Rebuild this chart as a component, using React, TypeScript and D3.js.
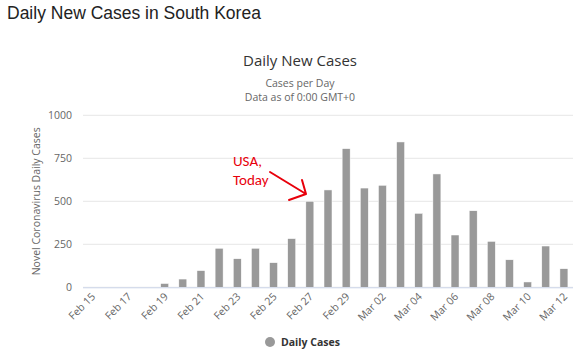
import React from "react";
import * as d3 from "d3";

const dates = [
  "Feb 15","Feb 16","Feb 17","Feb 18","Feb 19","Feb 20","Feb 21","Feb 22","Feb 23",
  "Feb 24","Feb 25","Feb 26","Feb 27","Feb 28","Feb 29","Mar 01","Mar 02","Mar 03",
  "Mar 04","Mar 05","Mar 06","Mar 07","Mar 08","Mar 09","Mar 10","Mar 11","Mar 12",
];
const dailyCases = [
  0, 0, 0, 0, 22, 48, 97, 227, 166, 227, 143, 283, 500, 566, 806, 577, 593, 845,
  430, 659, 304, 445, 267, 160, 31, 240, 108,
];
const yTicks = [0, 250, 500, 750, 1000];

export default function App() {
  const W = 583, H = 356;
  const left = 83, right = 573, top = 115.3, bottom = 287.3;
  const x = d3.scaleBand<string>().domain(dates).range([left, right]).paddingInner(0.56).paddingOuter(0.28);
  const xc = d3.scaleBand<string>().domain(dates).range([left, right]);
  const y = d3.scaleLinear().domain([0, 1000]).range([bottom, top]);
  const font = "'Open Sans', 'Noto Sans', sans-serif";

  return (
    <svg width={W} height={H} style={{ position: "absolute", left: 0, top: 0, background: "#fff" }}>
      <text x={7} y={19} fontFamily="Arial, 'Liberation Sans', sans-serif" fontSize={17.5} fill="#222">
        Daily New Cases in South Korea
      </text>
      <text x={300} y={66} textAnchor="middle" fontFamily={font} fontSize={15} fill="#333">
        Daily New Cases
      </text>
      <text x={300} y={87} textAnchor="middle" fontFamily={font} fontSize={10.5} fill="#666">
        Cases per Day
      </text>
      <text x={300} y={101} textAnchor="middle" fontFamily={font} fontSize={10.5} fill="#666">
        Data as of 0:00 GMT+0
      </text>

      {yTicks.map((t) => (
        <g key={t}>
          <line x1={left} x2={right} y1={y(t)} y2={y(t)} stroke="#e6e6e6" strokeWidth={1} />
          <text x={72} y={y(t) + 4} textAnchor="end" fontFamily={font} fontSize={10.5} fill="#666">
            {t}
          </text>
        </g>
      ))}
      <text
        transform={`translate(40,${(top + bottom) / 2}) rotate(-90)`}
        textAnchor="middle"
        fontFamily={font}
        fontSize={10.5}
        fill="#666"
      >
        Novel Coronavirus Daily Cases
      </text>

      {dates.map((d, i) => (
        <rect
          key={d}
          x={x(d)!}
          y={y(dailyCases[i])}
          width={x.bandwidth()}
          height={bottom - y(dailyCases[i])}
          fill="#999999"
          stroke="#ffffff"
          strokeWidth={0.5}
        />
      ))}
      <line x1={left} x2={right} y1={bottom + 0.5} y2={bottom + 0.5} stroke="#ccd6eb" strokeWidth={1} />

      {dates.map((d, i) =>
        i % 2 === 0 ? (
          <text
            key={d}
            transform={`translate(${xc(d)! + xc.bandwidth() / 2 + 4},${bottom + 10}) rotate(-45)`}
            textAnchor="end"
            fontFamily={font}
            fontSize={10.5}
            fill="#666"
          >
            {d}
          </text>
        ) : null
      )}

      <text x={233} y={166} fontFamily="Calibri, Carlito, 'Open Sans', sans-serif" fontSize={15} fill="#e8000b">
        USA,
      </text>
      <text x={233} y={185} fontFamily="Calibri, Carlito, 'Open Sans', sans-serif" fontSize={15} fill="#e8000b">
        Today
      </text>
      <path d="M270,172 L306,194 M302,180 L306,194 L289,200" fill="none" stroke="#e8000b" strokeWidth={2} strokeLinecap="round" strokeLinejoin="round" />

      <circle cx={270} cy={342} r={5} fill="#999999" />
      <text x={281} y={346} fontFamily={font} fontSize={10.5} fontWeight="bold" fill="#333">
        Daily Cases
      </text>
    </svg>
  );
}
